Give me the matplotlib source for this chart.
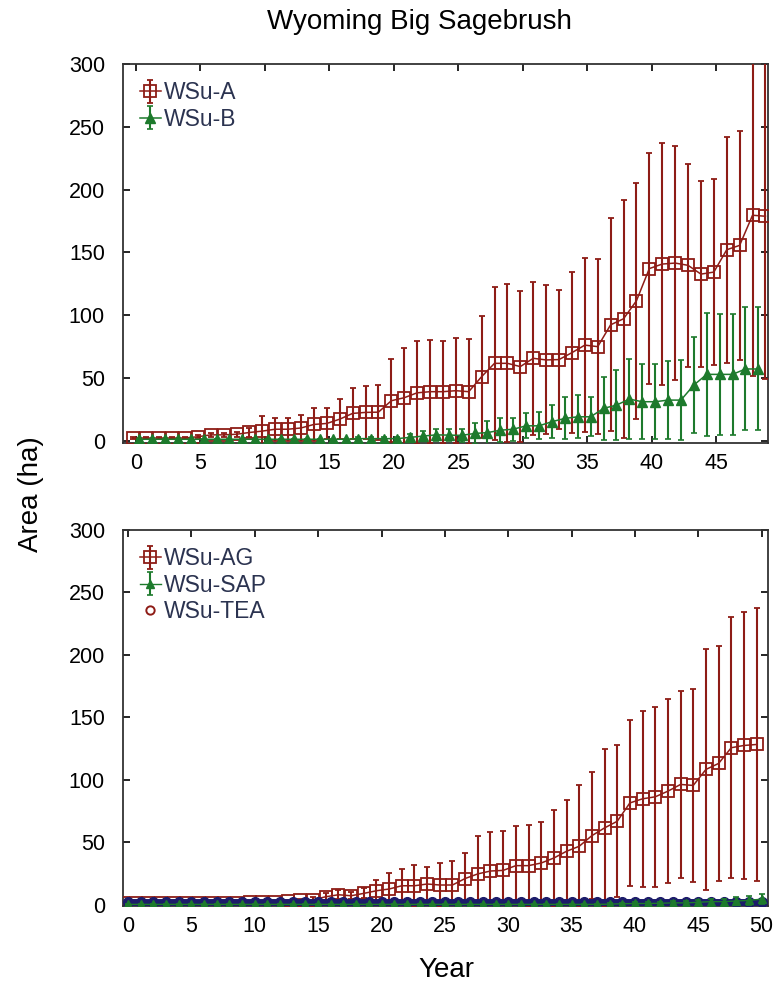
import matplotlib
matplotlib.use("Agg")
import matplotlib.pyplot as plt
from matplotlib.lines import Line2D
import numpy as np

plt.rcParams["font.family"] = ["Liberation Sans", "DejaVu Sans"]

RED = "#8e1c16"
GREEN = "#1d7a2c"
NAVY = "#1c1c6a"
TEXT = "#2b3350"

# top panel: WSu-A and WSu-B, years 0..49
years_top = list(range(50))
wsu_a_mean = [2, 2, 2, 2, 2, 3, 4.5, 4.5, 5, 6.4,
              7.5, 9, 9, 10, 12.8, 13.6, 17, 21.6, 22.4, 22.6,
              31.7, 34.1, 38, 38.9, 38.9, 39.7, 38.9, 50.9, 61.5, 61.5,
              58.9, 65.5, 64.2, 64.5, 70, 76, 74.8, 92.2, 97, 111.3,
              137, 140.6, 141.4, 139.6, 132.6, 134.2, 152, 155.5, 179.5, 178.7]
wsu_a_sd = [1, 1, 1, 1, 1, 1, 1.5, 1.5, 2, 3.5,
            12, 9, 9, 10.5, 13, 12, 16, 20, 21, 22,
            33, 40, 41, 41, 40.5, 42, 42, 48.7, 61, 63,
            60, 61, 59.4, 55.5, 64, 69.4, 70, 85, 95, 94,
            92.3, 96.7, 93, 81, 74, 74, 90, 91, 128, 130]

years_b = list(range(49))
wsu_b_mean = [1, 1, 1, 1, 1, 1, 1, 1, 1, 1,
              1, 1, 1, 1, 1, 1, 1, 1.5, 1.5, 1.5,
              1.5, 2.5, 3.5, 4.5, 4.3, 4.1, 5.6, 6.3, 8.2, 9,
              11.7, 11.7, 15, 17.6, 18.9, 18.9, 25.6, 28.2, 33, 30.9,
              30.9, 32.2, 32.2, 44.2, 52.7, 52.7, 52.7, 57, 57]
wsu_b_sd = [0.5, 0.5, 0.5, 0.5, 0.5, 0.5, 0.5, 0.5, 0.5, 0.5,
            0.5, 0.5, 0.5, 0.5, 0.5, 0.5, 0.5, 1, 1, 1,
            1, 3, 4, 5, 5, 5, 8, 9.5, 9.5, 9,
            10, 10.7, 13, 16.7, 17, 15.5, 25, 28, 32, 30,
            30, 31, 32, 38, 49, 48, 48, 49, 49]

# bottom panel: WSu-AG, WSu-SAP, WSu-TEA, years 0..50
years_bot = list(range(51))
wsu_ag_mean = [1, 1, 1, 1, 1, 1, 1, 1, 1, 1,
               2, 2, 2, 3, 3.5, 4, 6.4, 8, 7.2, 9.1,
               11.2, 12.6, 15.2, 15.2, 16.6, 15.8, 15.8, 21, 24.7, 27,
               27.5, 31.3, 31.3, 33.4, 37.4, 42.8, 46.8, 55.3, 61.5, 66.8,
               81.5, 84.8, 86.4, 90.9, 96.3, 95.5, 108.3, 113.1, 125.7, 127.5,
               128.3]
wsu_ag_sd = [0.3, 0.3, 0.3, 0.3, 0.3, 0.3, 0.3, 0.3, 0.3, 0.3,
             0.5, 0.5, 0.5, 1, 1.5, 2, 3, 3.5, 3, 4,
             8.6, 12.5, 13.4, 16.8, 14, 17.8, 19, 20.8, 30.4, 31.6,
             31.3, 31.5, 32.9, 32.6, 38.8, 40.9, 48.7, 50.8, 62.8, 60.7,
             66.3, 70.2, 72.2, 73.5, 74.8, 77, 96.2, 94.1, 104.3, 106.5,
             108.9]
wsu_sap_mean = [0.3] * 38 + [0.5, 0.8, 1, 1, 1.2, 1.5, 1.5, 2, 2.5, 2.5,
                             3, 3.5, 4.5]
wsu_sap_sd = [0.2] * 38 + [0.5, 0.8, 1, 1, 1.2, 1.5, 1.5, 2, 2.5, 2.5,
                           3, 3.5, 4]
wsu_tea_mean = [2.5] * 51

fig = plt.figure(figsize=(7.76, 9.88), dpi=100)
ax1 = fig.add_axes([0.1585, 0.5516, 0.8312, 0.3836])
ax2 = fig.add_axes([0.1585, 0.0830, 0.8312, 0.3806])

err_kw = dict(elinewidth=1.5, capsize=2.5, capthick=1.2)

ax1.errorbar(np.array(years_top) - 0.2, wsu_a_mean, yerr=wsu_a_sd, color=RED,
             marker="s", ms=8.5, mfc="none", mec=RED, mew=1.3, lw=1.1,
             label="WSu-A", zorder=3, **err_kw)
ax1.errorbar(np.array(years_b) + 0.25, wsu_b_mean, yerr=wsu_b_sd, color=GREEN,
             marker="^", ms=7.5, mfc=GREEN, mec=GREEN, lw=1.1,
             label="WSu-B", zorder=4, **err_kw)

ax2.errorbar(np.array(years_bot) - 0.4, wsu_ag_mean, yerr=wsu_ag_sd, color=RED,
             marker="s", ms=8.5, mfc="none", mec=RED, mew=1.3, lw=1.1,
             label="WSu-AG", zorder=3, **err_kw)
ax2.plot(years_bot, wsu_tea_mean, color=NAVY, marker="o", ms=7, lw=5,
         zorder=3.5)
ax2.errorbar(years_bot, wsu_sap_mean, yerr=wsu_sap_sd, color=GREEN,
             marker="^", ms=6, mfc=GREEN, mec=GREEN, lw=1.0,
             label="WSu-SAP", zorder=4, **err_kw)

ax1.set_xlim(-1, 49)
ax1.set_ylim(-2, 300)
ax1.set_xticks(range(0, 50, 5))
ax2.set_xlim(-0.4, 50.5)
ax2.set_ylim(-1, 300)
ax2.set_xticks(range(0, 51, 5))

for ax in (ax1, ax2):
    ax.set_yticks(range(0, 301, 50))
    ax.tick_params(direction="in", top=True, right=True, length=5,
                   width=1.2, labelsize=15.5)
    ax.tick_params(axis="y", pad=13)
    ax.tick_params(axis="x", pad=7)
    for s in ax.spines.values():
        s.set_linewidth(1.3)
        s.set_color("#333333")

leg_kw = dict(loc="upper left", frameon=False, fontsize=16.5,
              handlelength=0.9, handletextpad=0.15, borderaxespad=0.45,
              labelspacing=0.15, borderpad=0.3)

leg1 = ax1.legend(**leg_kw)
for t in leg1.get_texts():
    t.set_color(TEXT)

h, l = ax2.get_legend_handles_labels()
tea_handle = Line2D([], [], marker="o", ls="none", ms=6, mfc="none",
                    mec=RED, mew=1.4)
leg2 = ax2.legend(h + [tea_handle], l + ["WSu-TEA"], **leg_kw)
for t in leg2.get_texts():
    t.set_color(TEXT)

fig.text(0.541, 0.978, "Wyoming Big Sagebrush", ha="center", va="center",
         fontsize=20)
fig.text(0.040, 0.500, "Area (ha)", ha="center", va="center",
         rotation=90, fontsize=20)
fig.text(0.575, 0.018, "Year", ha="center", va="center", fontsize=20)

fig.savefig("out.png", dpi=100)
